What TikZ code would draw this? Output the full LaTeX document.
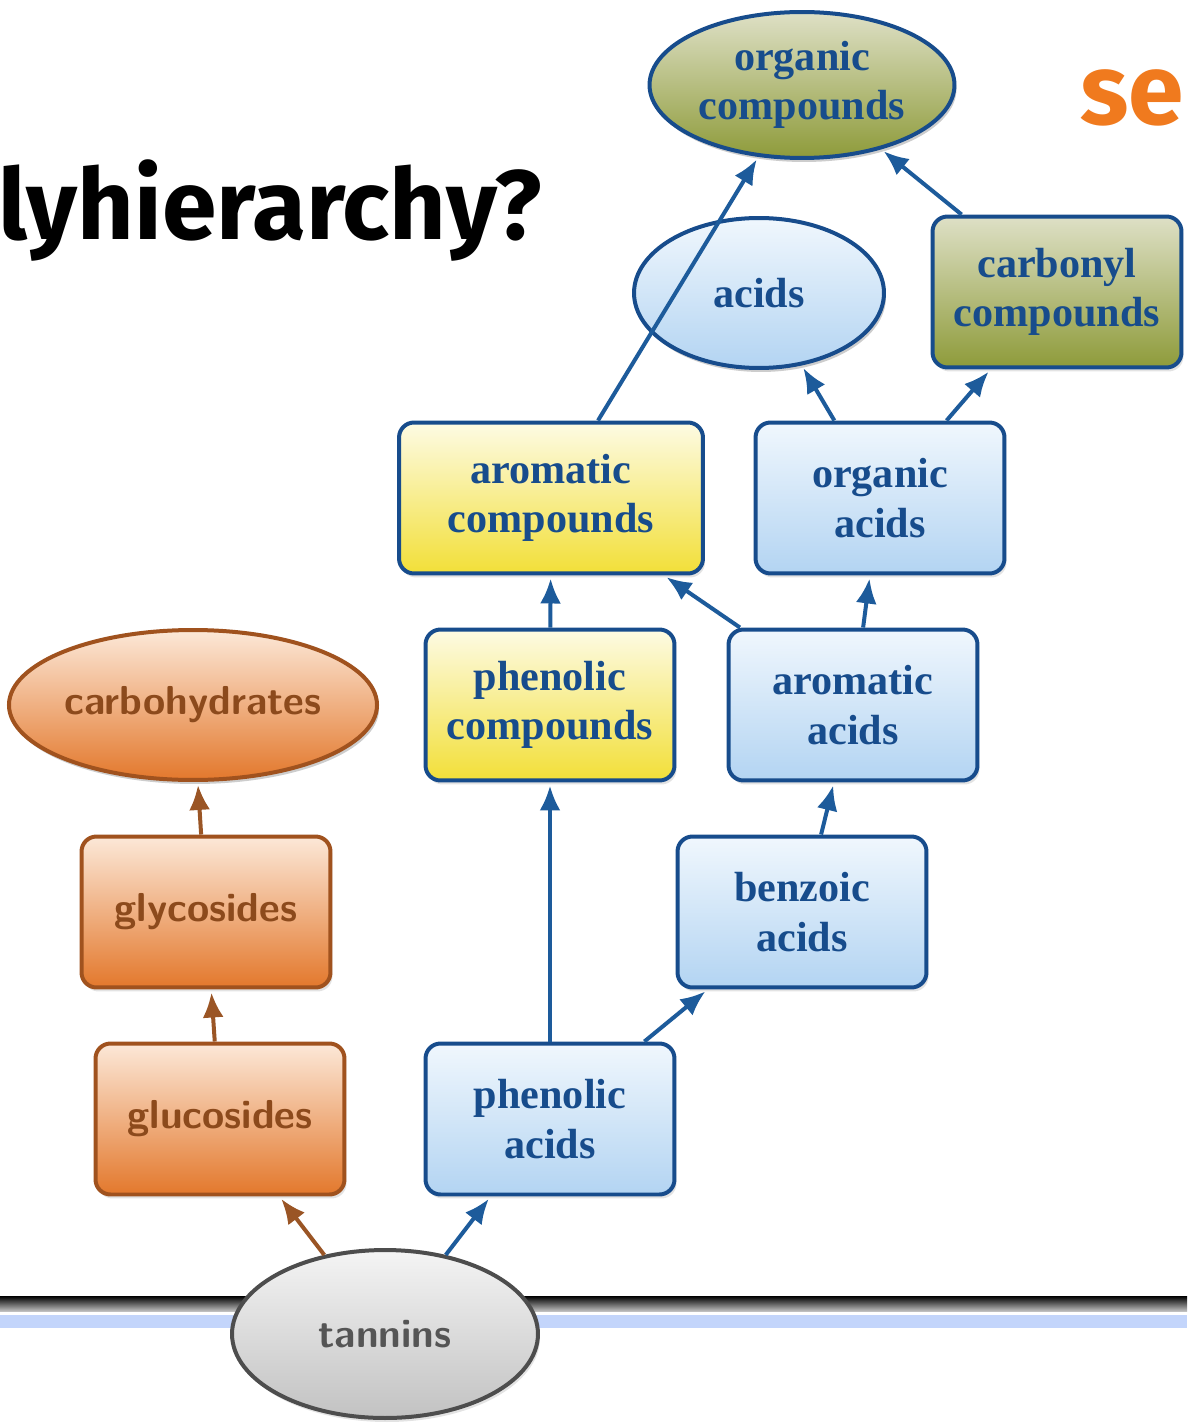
\documentclass[tikz,border=0pt]{standalone}
\usepackage{fontspec}
\usetikzlibrary{shapes.geometric,arrows.meta,shadows}
\newfontfamily\titlefont{Fira Sans}
\newfontfamily\nodefont{Liberation Serif}

\definecolor{nodeblue}{HTML}{174C8C}
\definecolor{arrowblue}{HTML}{1D5B9B}
\definecolor{arrowbrown}{HTML}{9A5525}
\definecolor{blueTop}{HTML}{F0F7FD}
\definecolor{blueBot}{HTML}{B3D4F2}
\definecolor{yellowTop}{HTML}{FDFBE4}
\definecolor{yellowBot}{HTML}{F2DF38}
\definecolor{oliveTop}{HTML}{DEE0C6}
\definecolor{oliveBot}{HTML}{8E9B3A}
\definecolor{orangeTop}{HTML}{FCE8D8}
\definecolor{orangeBot}{HTML}{E3782C}
\definecolor{orangeLine}{HTML}{A0521E}
\definecolor{orangeText}{HTML}{8C4A1C}
\definecolor{grayTop}{HTML}{F4F4F4}
\definecolor{grayBot}{HTML}{C2C2C2}
\definecolor{grayLine}{HTML}{4D4D4D}
\definecolor{grayText}{HTML}{555555}
\definecolor{semorange}{HTML}{F07A1E}
\definecolor{bandblue}{HTML}{C3D5FB}

\begin{document}
\begin{tikzpicture}[x=0.02cm, y=-0.02cm,
	chembox/.style={draw=nodeblue, line width=0.08cm, rounded corners=0.3cm,
		minimum width=4.98cm, minimum height=3.02cm, align=center, text=nodeblue,
		font=\nodefont\fontsize{24}{28}\selectfont\bfseries,
		drop shadow={opacity=0.22, shadow xshift=0.04cm, shadow yshift=-0.08cm}},
	bluebox/.style={chembox, top color=blueTop, bottom color=blueBot},
	yellowbox/.style={chembox, top color=yellowTop, bottom color=yellowBot},
	olivebox/.style={chembox, top color=oliveTop, bottom color=oliveBot},
	orangebox/.style={chembox, top color=orangeTop, bottom color=orangeBot,
		draw=orangeLine, text=orangeText, font=\fontsize{23}{28}\selectfont\sffamily\bfseries},
	chemoval/.style={chembox, ellipse, inner sep=1pt},
	link/.style={->, line width=0.08cm, draw=arrowblue, shorten >=0.06cm},
	brownlink/.style={link, draw=arrowbrown},
	>={Latex[length=0.5cm,width=0.42cm]}
	]

	\useasboundingbox (0,0) rectangle (1187,1425);

	\node (title) [anchor=base west, font=\titlefont\bfseries\fontsize{56}{60}\selectfont] at (-8,240) {lyhierarchy?};
	\node (sem) [anchor=base west, text=semorange, font=\titlefont\bfseries\fontsize{57}{60}\selectfont] at (1074,125) {se};

	\shade [top color=black, bottom color=black!25] (0,1296) rectangle (1187,1311);
	\fill [bandblue] (0,1315) rectangle (1187,1328);

	\node (orgc) [chemoval, olivebox, minimum width=6.1cm, minimum height=2.92cm] at (802,85) {organic\\compounds};
	\node (acids) [chemoval, bluebox, minimum width=5cm, minimum height=3cm] at (759,293) {acids};
	\node (carbonyl) [olivebox] at (1057,292) {carbonyl\\compounds};

	\node (aromc) [yellowbox, minimum width=6.08cm] at (551,498) {aromatic\\compounds};
	\node (orga) [bluebox] at (880,498) {organic\\acids};

	\node (phenc) [yellowbox] at (550,705) {phenolic\\compounds};
	\node (aroma) [bluebox] at (853,705) {aromatic\\acids};
	\node (carbo) [chemoval, orangebox, minimum width=7.26cm, minimum height=3cm] at (193,705) {carbohydrates};

	\node (glyc) [orangebox] at (206,912) {glycosides};
	\node (benz) [bluebox] at (802,912) {benzoic\\acids};

	\node (gluc) [orangebox] at (220,1119) {glucosides};
	\node (phena) [bluebox] at (550,1119) {phenolic\\acids};

	\node (tann) [chemoval, top color=grayTop, bottom color=grayBot, draw=grayLine, text=grayText,
		font=\fontsize{23}{28}\selectfont\sffamily\bfseries, minimum width=6.12cm, minimum height=3.36cm] at (385,1334) {tannins};

	\draw [link] (aromc) -- (orgc);
	\draw [link] (carbonyl) -- (orgc);
	\draw [link] (orga) -- (acids);
	\draw [link] (orga) -- (carbonyl);
	\draw [link] (phenc) -- (aromc);
	\draw [link] (aroma) -- (aromc);
	\draw [link] (aroma) -- (orga);
	\draw [link] (benz) -- (aroma);
	\draw [link] (phena) -- (phenc);
	\draw [link] (phena) -- (benz);
	\draw [link] (tann) -- (phena);

	\draw [brownlink] (tann) -- (gluc);
	\draw [brownlink] (gluc) -- (glyc);
	\draw [brownlink] (glyc) -- (carbo);
\end{tikzpicture}
\end{document}
